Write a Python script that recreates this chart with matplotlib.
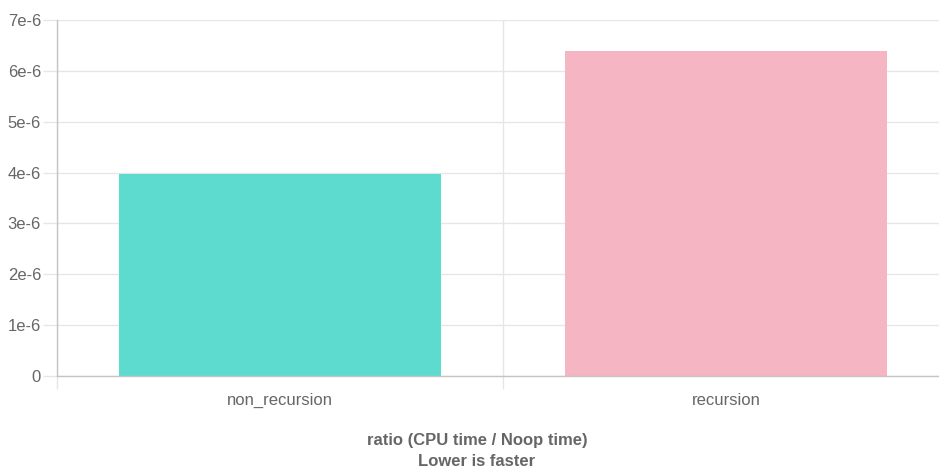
import matplotlib.pyplot as plt
from matplotlib.ticker import FixedLocator

plt.rcParams['font.family'] = ['Liberation Sans', 'DejaVu Sans']

categories = ['non_recursion', 'recursion']
values = [3.97e-6, 6.39e-6]
colors = ['#5ddbcf', '#f5b5c2']
ytick_vals = [0, 1e-6, 2e-6, 3e-6, 4e-6, 5e-6, 6e-6, 7e-6]
ytick_labels = ['0', '1e-6', '2e-6', '3e-6', '4e-6', '5e-6', '6e-6', '7e-6']

W, H, dpi = 939, 468, 100
fig = plt.figure(figsize=(W / dpi, H / dpi), dpi=dpi)
# plot area in pixels: left 57, right 949 (cut off by canvas), top 20, bottom 376
ax = fig.add_axes([57 / W, (H - 376) / H, (949 - 57) / W, 356 / H])

grid_c = '#e6e6e6'
axis_c = '#c4c4c4'
text_c = '#666666'

x = list(range(len(categories)))
ax.bar(x, values, width=0.72, color=colors, zorder=2)

ax.set_xlim(-0.5, len(categories) - 0.5)
ax.set_ylim(0, 7e-6)

ax.yaxis.set_major_locator(FixedLocator(ytick_vals))
ax.set_yticklabels(ytick_labels)
ax.set_xticks(x)
ax.set_xticklabels(categories)
ax.set_xticks([i - 0.5 for i in range(len(categories) + 1)], minor=True)

ax.grid(axis='y', which='major', color=grid_c, linewidth=1, zorder=0)
ax.grid(axis='x', which='minor', color=grid_c, linewidth=1, zorder=0)

for s in ['top', 'right']:
    ax.spines[s].set_visible(False)
for s in ['left', 'bottom']:
    ax.spines[s].set_color(axis_c)
    ax.spines[s].set_linewidth(1)
    ax.spines[s].set_zorder(3)

ax.tick_params(axis='y', length=10, width=1, color=grid_c, pad=1.5,
               labelsize=12, labelcolor=text_c)
ax.tick_params(axis='x', which='major', length=0, pad=12,
               labelsize=12, labelcolor=text_c)
ax.tick_params(axis='x', which='minor', length=9, width=1, color=grid_c)

fig.text(477 / W, 1 - 440 / H, 'ratio (CPU time / Noop time)', ha='center', va='center',
         fontsize=12, fontweight='bold', color=text_c)
fig.text(477 / W, 1 - 461.5 / H, 'Lower is faster', ha='center', va='center',
         fontsize=12, fontweight='bold', color=text_c)

fig.savefig('out.png', dpi=dpi)
